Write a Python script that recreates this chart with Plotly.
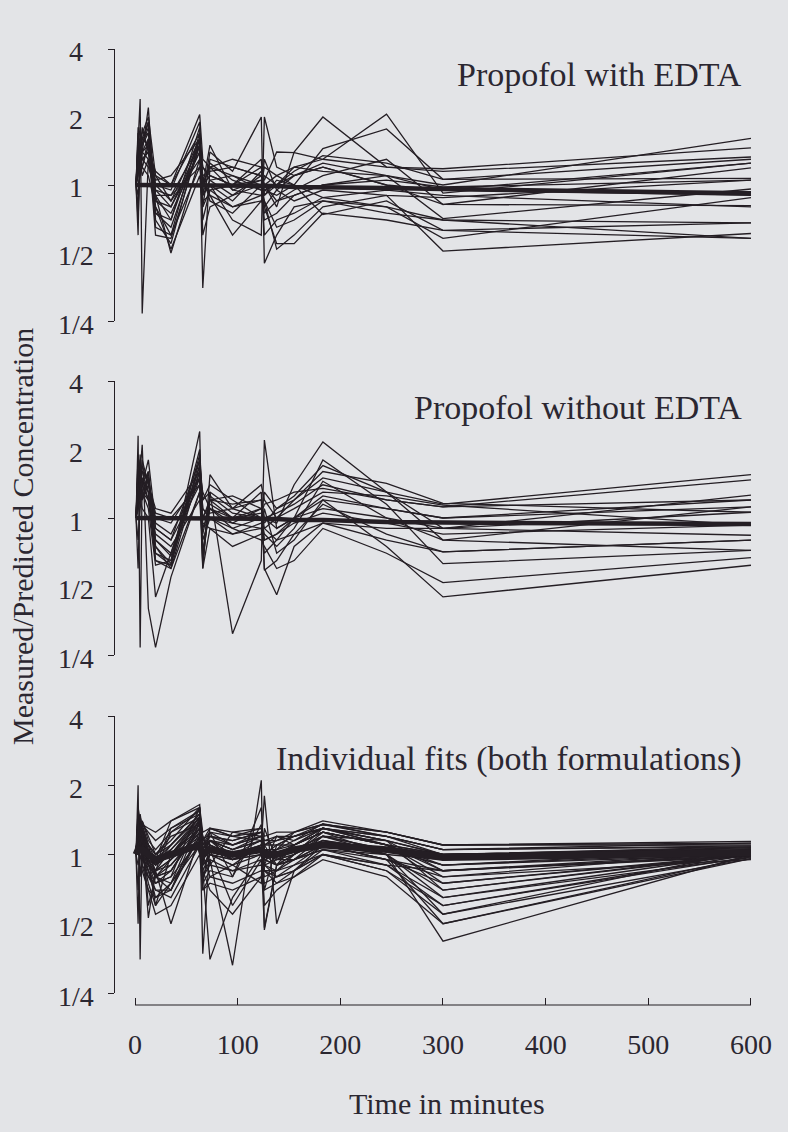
import math
import plotly.graph_objects as go

# ---------------- data ----------------
times = [1, 3, 5, 7, 13, 20, 35, 63, 66, 73, 95, 123, 126, 138, 155, 183, 245, 300, 600]

edta_lines = [
    [1.00, 1.50, 2.40, 0.27, 1.30, 0.95, 0.80, 1.50, 1.00, 1.10, 1.00, 1.20, 0.90, 1.00, 1.10, 1.20, 1.00, 0.95, 0.90],
    [1.00, 1.80, 1.20, 1.40, 2.20, 0.70, 0.55, 1.60, 0.35, 1.20, 0.95, 1.05, 1.00, 0.85, 0.90, 1.00, 1.05, 0.98, 1.05],
    [1.00, 0.60, 1.70, 1.50, 1.90, 0.90, 0.50, 1.30, 0.90, 1.40, 1.15, 2.00, 0.45, 0.60, 0.80, 0.85, 0.75, 0.70, 0.68],
    [1.00, 1.20, 1.40, 1.60, 1.70, 0.80, 0.60, 1.70, 1.20, 1.05, 0.90, 1.10, 1.00, 0.80, 1.40, 2.00, 1.20, 1.15, 1.33],
    [1.00, 1.10, 1.30, 1.20, 1.50, 1.00, 0.95, 1.90, 0.80, 1.30, 1.20, 1.10, 0.95, 1.00, 1.20, 1.30, 2.06, 0.92, 1.25],
    [1.00, 0.80, 1.20, 1.80, 1.40, 0.75, 0.65, 1.50, 0.70, 0.95, 0.80, 0.85, 0.80, 0.55, 0.55, 0.75, 0.70, 0.63, 0.58],
    [1.00, 1.40, 1.60, 1.70, 2.00, 1.10, 1.00, 2.05, 1.30, 1.20, 1.10, 1.00, 1.20, 1.10, 1.00, 1.45, 1.77, 1.06, 1.07],
    [1.00, 1.30, 1.50, 1.40, 1.30, 0.85, 0.75, 1.40, 0.95, 1.00, 0.70, 0.60, 2.00, 1.20, 1.10, 1.20, 1.00, 0.82, 0.81],
    [1.00, 1.60, 1.30, 1.20, 1.60, 0.65, 0.60, 1.20, 1.00, 1.25, 1.05, 0.95, 0.85, 0.52, 0.60, 0.80, 0.90, 0.51, 0.61],
    [1.00, 0.90, 1.20, 1.30, 1.40, 1.05, 1.10, 1.60, 1.10, 1.15, 1.20, 1.10, 1.05, 1.40, 1.39, 1.30, 1.20, 1.18, 1.46],
    [1.00, 1.20, 1.10, 1.50, 1.80, 0.90, 0.70, 1.80, 0.60, 0.80, 0.90, 1.00, 0.70, 0.75, 0.90, 1.00, 1.10, 0.71, 0.96],
    [1.00, 1.50, 1.80, 1.60, 1.50, 1.10, 0.85, 1.30, 1.05, 0.90, 0.60, 0.85, 0.95, 0.90, 1.00, 0.88, 0.80, 0.58, 0.88],
    [1.00, 1.70, 1.40, 1.30, 1.20, 0.95, 0.90, 1.50, 1.20, 1.10, 1.00, 1.30, 0.80, 0.95, 1.10, 1.25, 1.10, 1.00, 1.61],
    [1.00, 1.00, 1.10, 1.20, 1.10, 0.80, 0.52, 1.10, 0.80, 0.95, 1.00, 1.05, 0.75, 0.85, 0.95, 1.10, 1.30, 0.82, 1.19],
    [1.00, 1.30, 1.20, 1.40, 1.60, 0.75, 0.70, 1.60, 0.90, 1.00, 0.85, 1.15, 0.90, 1.05, 1.00, 0.74, 0.85, 0.63, 0.68],
    [1.00, 1.10, 1.50, 1.30, 1.40, 1.15, 1.00, 1.70, 1.00, 1.50, 0.95, 0.90, 1.10, 1.00, 1.15, 1.35, 1.25, 1.06, 1.30],
    [1.00, 1.40, 1.25, 1.60, 1.90, 0.85, 0.80, 1.40, 0.90, 1.05, 1.10, 0.95, 1.30, 0.95, 0.85, 0.95, 0.90, 0.88, 1.05],
    [1.00, 0.70, 1.30, 1.10, 1.30, 0.90, 0.90, 1.20, 1.10, 0.85, 0.75, 1.00, 0.60, 0.70, 0.75, 0.88, 0.95, 0.90, 0.80],
    [1.00, 1.20, 1.40, 1.50, 1.70, 1.00, 0.85, 1.60, 1.00, 1.20, 1.30, 1.20, 1.00, 1.10, 1.20, 1.15, 1.10, 0.95, 1.25],
    [1.00, 1.50, 1.60, 1.40, 1.50, 0.60, 0.58, 1.50, 0.85, 0.90, 0.80, 0.90, 0.85, 0.65, 0.70, 0.85, 0.80, 0.70, 0.58],
]
edta_center = [1.00, 1.00, 1.00, 1.00, 1.00, 1.00, 1.00, 1.00, 1.00, 1.00, 0.99, 0.99, 0.99, 0.99, 0.98, 0.98, 0.97, 0.96, 0.92]

no_edta_lines = [
    [1.00, 2.30, 0.27, 1.50, 1.20, 0.75, 0.60, 1.60, 0.65, 1.20, 1.00, 1.10, 0.90, 1.00, 1.20, 1.50, 1.30, 1.15, 1.55],
    [1.00, 1.80, 1.60, 2.10, 0.40, 0.27, 0.55, 1.30, 0.70, 1.10, 0.95, 0.90, 1.00, 1.05, 1.15, 1.40, 1.20, 1.12, 1.47],
    [1.00, 1.50, 1.70, 1.40, 1.20, 0.65, 0.62, 2.40, 0.60, 1.55, 1.10, 1.00, 0.80, 0.85, 1.00, 1.10, 1.00, 0.90, 1.26],
    [1.00, 1.20, 1.90, 1.30, 1.10, 0.62, 0.65, 1.90, 1.20, 1.30, 0.31, 0.65, 2.20, 0.90, 1.00, 1.20, 1.10, 1.00, 1.20],
    [1.00, 0.60, 1.30, 1.80, 1.40, 1.00, 0.95, 1.50, 1.00, 1.20, 1.15, 1.20, 1.00, 0.95, 1.40, 2.16, 1.30, 0.80, 1.12],
    [1.00, 1.40, 1.50, 1.20, 1.60, 0.80, 0.70, 1.70, 0.90, 1.10, 1.00, 1.30, 0.60, 0.46, 0.75, 0.95, 0.80, 0.71, 0.80],
    [1.00, 1.60, 1.20, 1.50, 1.30, 0.70, 0.62, 1.80, 1.10, 1.00, 0.85, 0.90, 0.70, 0.80, 1.00, 1.80, 1.15, 0.63, 0.72],
    [1.00, 1.10, 1.40, 1.60, 1.50, 0.90, 0.80, 1.40, 0.85, 1.20, 1.25, 1.10, 0.95, 1.10, 1.20, 1.60, 1.42, 1.16, 1.06],
    [1.00, 1.30, 1.60, 1.20, 1.40, 1.10, 1.05, 1.60, 1.30, 1.10, 0.90, 0.80, 0.75, 0.60, 0.65, 0.90, 0.70, 0.52, 0.67],
    [1.00, 1.90, 1.40, 1.30, 1.50, 0.65, 0.60, 1.30, 0.60, 0.90, 0.75, 0.85, 1.10, 0.70, 0.80, 1.20, 0.75, 0.45, 0.62],
    [1.00, 1.20, 1.30, 1.40, 1.80, 0.95, 0.85, 1.50, 1.00, 1.05, 1.10, 1.40, 1.20, 1.00, 1.10, 1.30, 1.25, 1.14, 0.93],
    [1.00, 0.80, 1.10, 1.30, 1.20, 0.85, 0.75, 1.20, 0.95, 0.90, 0.85, 0.95, 0.90, 0.80, 0.85, 0.95, 0.90, 0.90, 0.84],
    [1.00, 1.50, 1.80, 1.60, 1.30, 0.70, 0.65, 2.00, 0.70, 1.25, 1.05, 1.00, 0.85, 0.75, 0.90, 1.45, 1.00, 0.80, 0.72],
    [1.00, 1.40, 1.20, 1.10, 1.00, 0.45, 0.70, 1.60, 1.10, 1.00, 0.95, 1.10, 1.00, 0.90, 1.00, 1.25, 1.10, 1.00, 1.12],
    [1.00, 1.70, 1.50, 1.40, 1.60, 0.75, 0.63, 1.70, 0.62, 1.30, 1.10, 1.20, 0.59, 0.65, 0.85, 1.15, 0.85, 0.71, 0.80],
    [1.00, 1.30, 1.50, 1.70, 1.40, 1.05, 1.00, 1.40, 1.00, 1.15, 1.00, 1.05, 1.15, 1.20, 1.30, 1.35, 1.20, 1.12, 1.20],
    [1.00, 1.10, 1.20, 1.50, 1.30, 0.80, 0.68, 1.50, 0.80, 1.00, 0.90, 1.00, 0.80, 0.85, 0.95, 1.05, 0.95, 0.85, 0.93],
    [1.00, 1.60, 1.40, 1.20, 1.50, 0.90, 0.80, 1.80, 1.20, 1.40, 1.20, 1.00, 1.30, 1.10, 1.25, 1.70, 1.30, 0.90, 1.06],
]
no_edta_center = [1.00, 1.00, 1.00, 1.00, 1.00, 1.00, 1.00, 1.00, 1.00, 1.00, 1.00, 0.99, 0.99, 0.99, 0.98, 0.98, 0.96, 0.955, 0.94]

indiv_lines = [
    [1.00, 2.00, 0.35, 1.30, 1.10, 0.80, 0.75, 1.45, 0.37, 1.10, 0.95, 1.00, 0.90, 0.95, 1.05, 1.20, 1.05, 0.90, 1.00],
    [1.00, 1.50, 1.30, 1.20, 0.53, 0.85, 0.50, 1.20, 1.00, 1.15, 1.00, 1.05, 1.00, 0.90, 1.00, 1.30, 1.10, 0.85, 1.02],
    [1.00, 1.40, 1.20, 1.10, 0.90, 0.75, 0.80, 1.60, 0.90, 0.95, 0.33, 2.10, 0.47, 0.90, 1.00, 1.25, 1.00, 0.42, 1.00],
    [1.00, 1.30, 1.40, 1.00, 0.85, 0.65, 0.70, 1.40, 1.20, 1.00, 0.90, 1.10, 1.80, 0.50, 0.85, 1.10, 0.95, 0.50, 0.98],
    [1.00, 1.20, 1.50, 1.30, 1.00, 0.90, 1.30, 1.55, 1.10, 1.25, 1.20, 1.30, 1.10, 1.20, 1.15, 1.36, 1.20, 1.05, 1.08],
    [1.00, 0.50, 1.40, 1.20, 0.95, 0.80, 0.85, 1.30, 0.80, 0.90, 0.85, 0.95, 0.60, 0.70, 0.80, 1.00, 0.85, 0.55, 0.96],
    [1.00, 1.35, 1.10, 1.40, 1.20, 1.00, 1.10, 1.50, 1.05, 1.20, 1.15, 1.25, 1.05, 1.00, 1.10, 1.30, 1.15, 1.00, 1.05],
    [1.00, 1.25, 1.30, 0.90, 0.80, 0.70, 0.65, 1.10, 0.75, 0.85, 0.80, 1.60, 0.85, 0.75, 0.85, 1.05, 0.90, 0.60, 1.00],
    [1.00, 1.40, 1.20, 1.10, 1.05, 0.95, 1.40, 1.65, 0.90, 1.30, 1.20, 1.15, 1.00, 1.05, 1.25, 1.35, 1.25, 1.10, 1.10],
    [1.00, 1.10, 1.30, 1.20, 0.90, 0.85, 0.90, 1.25, 0.95, 1.05, 1.00, 1.10, 0.95, 0.90, 0.95, 1.10, 1.00, 0.95, 1.03],
    [1.00, 1.30, 0.80, 1.00, 0.75, 0.60, 0.75, 1.20, 0.85, 0.35, 0.65, 1.00, 0.80, 0.85, 0.90, 1.00, 0.90, 0.65, 0.97],
    [1.00, 1.45, 1.25, 1.35, 1.10, 1.00, 1.20, 1.35, 1.15, 1.25, 1.10, 1.20, 1.15, 1.20, 1.20, 1.30, 1.20, 1.05, 1.12],
    [1.00, 1.20, 1.10, 0.95, 0.85, 0.75, 0.80, 1.15, 0.90, 1.00, 0.95, 1.05, 0.90, 0.80, 0.90, 1.10, 0.95, 0.75, 0.99],
    [1.00, 1.30, 1.35, 1.25, 1.00, 0.90, 1.00, 1.40, 1.00, 1.15, 1.05, 1.15, 1.00, 1.10, 1.10, 1.25, 1.10, 1.00, 1.04],
    [1.00, 0.70, 1.20, 1.10, 0.90, 0.80, 0.85, 1.30, 0.95, 1.05, 0.60, 0.95, 0.48, 0.90, 0.95, 1.05, 0.95, 0.80, 0.95],
    [1.00, 1.40, 1.30, 1.20, 1.10, 0.95, 1.05, 1.45, 1.05, 1.20, 1.10, 1.20, 1.05, 1.05, 1.15, 1.30, 1.15, 1.00, 1.06],
    [1.00, 1.25, 1.20, 1.15, 0.95, 0.85, 0.95, 1.30, 0.95, 1.10, 1.00, 1.10, 1.00, 0.95, 1.00, 1.15, 1.05, 0.95, 1.01],
    [1.00, 1.35, 1.40, 1.30, 1.05, 0.90, 1.10, 1.50, 1.10, 1.15, 1.10, 1.25, 1.10, 1.10, 1.20, 1.30, 1.15, 0.70, 1.00],
    [1.00, 1.15, 1.05, 1.10, 0.85, 0.70, 0.70, 1.20, 0.80, 0.95, 0.85, 0.90, 0.85, 0.80, 0.85, 1.00, 0.90, 0.85, 0.98],
    [1.00, 1.30, 1.25, 1.20, 1.00, 0.90, 1.00, 1.35, 1.00, 1.10, 1.00, 1.15, 0.95, 1.00, 1.05, 1.20, 1.05, 0.90, 1.02],
    [1.00, 1.45, 1.30, 1.15, 1.00, 0.85, 0.95, 1.40, 0.95, 1.05, 0.95, 1.10, 1.00, 0.95, 1.00, 1.20, 1.00, 0.55, 1.04],
    [1.00, 1.20, 1.30, 1.40, 1.15, 1.05, 1.25, 1.55, 1.15, 1.30, 1.20, 1.25, 1.15, 1.15, 1.25, 1.35, 1.25, 1.10, 1.14],
    [1.00, 1.25, 1.15, 1.05, 0.95, 0.80, 0.90, 1.25, 0.90, 1.00, 0.90, 1.00, 0.90, 0.85, 0.95, 1.10, 0.95, 0.85, 0.99],
    [1.00, 1.35, 1.20, 1.25, 1.05, 0.95, 1.10, 1.45, 1.05, 1.15, 1.05, 1.20, 1.05, 1.00, 1.10, 1.25, 1.10, 1.00, 1.07],
    [1.00, 1.10, 1.20, 1.00, 0.90, 0.80, 0.95, 1.20, 0.85, 1.00, 0.95, 1.00, 0.95, 0.90, 0.95, 1.05, 1.00, 0.65, 1.01],
    [1.00, 1.40, 1.25, 1.30, 1.10, 1.00, 1.15, 1.60, 1.10, 1.20, 1.15, 1.25, 1.10, 1.15, 1.20, 1.30, 1.20, 1.05, 1.09],
    [1.00, 1.20, 1.10, 1.15, 0.95, 0.90, 1.00, 1.30, 1.00, 1.05, 1.00, 1.05, 1.00, 1.00, 1.05, 1.15, 1.05, 0.95, 1.03],
    [1.00, 1.30, 1.35, 1.20, 1.00, 0.85, 1.05, 1.40, 1.00, 1.15, 1.05, 1.15, 1.00, 1.05, 1.10, 1.25, 1.10, 0.75, 1.00],
    [1.00, 1.60, 1.40, 0.90, 0.70, 0.55, 0.60, 1.00, 0.70, 0.80, 0.75, 0.85, 0.75, 0.80, 0.85, 1.00, 0.85, 0.60, 0.98],
    [1.00, 1.50, 1.45, 1.35, 1.30, 1.25, 1.40, 1.60, 1.25, 1.30, 1.25, 1.30, 1.20, 1.25, 1.25, 1.40, 1.25, 1.10, 1.12],
    [1.00, 0.90, 1.00, 0.85, 0.70, 0.65, 0.75, 1.10, 0.70, 0.75, 0.70, 0.80, 0.70, 0.75, 0.80, 0.95, 0.80, 0.50, 0.96],
    [1.00, 1.35, 1.25, 1.10, 0.95, 0.60, 1.00, 1.45, 0.85, 0.70, 0.55, 0.80, 1.10, 0.90, 1.10, 1.30, 1.10, 0.80, 1.03],
    [1.00, 1.20, 1.30, 1.35, 1.25, 1.15, 1.30, 1.50, 1.20, 0.90, 1.25, 1.20, 0.70, 1.10, 1.20, 1.35, 1.20, 1.00, 1.08],
    [1.00, 1.40, 1.15, 1.00, 0.80, 0.75, 0.85, 1.35, 0.95, 1.25, 0.80, 1.35, 0.85, 0.85, 1.00, 1.15, 1.00, 0.70, 1.01],
    [1.00, 1.10, 1.05, 0.95, 0.90, 0.85, 1.25, 1.45, 0.75, 1.15, 0.95, 1.05, 0.90, 1.20, 1.10, 1.25, 1.10, 0.90, 1.05],
    [1.00, 1.30, 1.20, 1.25, 0.60, 0.80, 0.70, 1.25, 1.00, 0.80, 0.90, 0.75, 1.30, 0.95, 0.95, 1.20, 1.15, 0.85, 1.00],
]
indiv_center = [1.00, 1.05, 1.05, 1.05, 1.00, 0.95, 1.00, 1.10, 1.00, 1.05, 1.00, 1.05, 1.00, 1.00, 1.05, 1.10, 1.05, 0.97, 1.02]

panel_titles = ["Propofol with EDTA", "Propofol without EDTA", "Individual fits (both formulations)"]
y_tick_vals = [0.25, 0.5, 1, 2, 4]
y_tick_text = ["1/4", "1/2", "1", "2", "4"]
x_tick_vals = [0, 100, 200, 300, 400, 500, 600]
x_tick_text = ["0", "100", "200", "300", "400", "500", "600"]
x_title = "Time in minutes"
y_title = "Measured/Predicted Concentration"

# ---------------- layout geometry ----------------
W, H = 788, 1132
BG = "#e3e4e7"
INK = "#241e24"
TXT = "#2b2731"
FONT = "'Liberation Serif', 'Times New Roman', Times, 'DejaVu Serif', serif"


def fx(px):
    return px / W


def fy(px):
    return 1 - px / H


panel_px = [(49, 321), (381, 655), (716, 993)]   # (top, bottom) of each y axis
title_y_px = [74, 407, 759]
x_axis_px = 1005
x_range = [-19.5, 620]
x_domain = [fx(115), fx(771.5)]
y_range = [math.log10(0.25), math.log10(4)]

fig = go.Figure()

datasets = [(edta_lines, edta_center), (no_edta_lines, no_edta_center), (indiv_lines, indiv_center)]
for i, (lines, center) in enumerate(datasets):
    xa = "x" if i == 0 else f"x{i+1}"
    ya = "y" if i == 0 else f"y{i+1}"
    for vals in lines:
        fig.add_trace(go.Scatter(x=times, y=vals, mode="lines", xaxis=xa, yaxis=ya,
                                 line=dict(color=INK, width=1.3), hoverinfo="skip", showlegend=False))
    fig.add_trace(go.Scatter(x=times, y=center, mode="lines", xaxis=xa, yaxis=ya,
                             line=dict(color=INK, width=4.5 if i < 2 else 7), hoverinfo="skip",
                             showlegend=False))

layout = dict(
    width=W, height=H,
    margin=dict(l=0, r=0, t=0, b=0),
    paper_bgcolor=BG, plot_bgcolor=BG,
    font=dict(family=FONT, color=TXT, size=28),
    showlegend=False,
)

annotations = []
for i, (top, bot) in enumerate(panel_px):
    sfx = "" if i == 0 else str(i + 1)
    xkey = "xaxis" + sfx
    ykey = "yaxis" + sfx
    xa = dict(domain=x_domain, range=x_range, anchor="y" + sfx, showgrid=False, zeroline=False)
    if i < 2:
        xa.update(visible=False)
    else:
        xa.update(anchor="free", position=fy(x_axis_px), showline=False, ticks="inside",
                  ticklen=7, tickwidth=1.2, tickcolor=INK, tickvals=x_tick_vals,
                  ticktext=x_tick_text, tickfont=dict(size=28, family=FONT, color=TXT),
                  ticklabelstandoff=20)
    layout[xkey] = xa
    layout[ykey] = dict(domain=[fy(bot), fy(top)], type="log", range=y_range,
                        anchor="x" + sfx, showgrid=False, zeroline=False,
                        showline=True, linecolor=INK, linewidth=1.2,
                        ticks="outside", ticklen=6, tickwidth=1.2, tickcolor=INK,
                        tickvals=y_tick_vals, showticklabels=False)
    for v, t in zip(y_tick_vals, y_tick_text):
        annotations.append(dict(text=t, xref="paper", x=fx(76), xanchor="center",
                                yref="y" + sfx, y=math.log10(v), yanchor="middle", yshift=-3,
                                showarrow=False, font=dict(size=28, family=FONT, color=TXT)))
    annotations.append(dict(text=panel_titles[i], xref="paper", x=fx(744), xanchor="right",
                            yref="paper", y=fy(title_y_px[i]), yanchor="middle",
                            showarrow=False, font=dict(size=34, family=FONT, color=TXT)))

annotations.append(dict(text=x_title, xref="paper", x=fx(447), xanchor="center",
                        yref="paper", y=fy(1103), yanchor="middle", showarrow=False,
                        font=dict(size=30, family=FONT, color=TXT)))
annotations.append(dict(text=y_title, xref="paper", x=fx(22), xanchor="center",
                        yref="paper", y=fy(537), yanchor="middle", textangle=-90,
                        showarrow=False, font=dict(size=30, family=FONT, color=TXT)))
layout["annotations"] = annotations
layout["shapes"] = [dict(type="line", xref="x3", x0=0, x1=600, yref="paper",
                         y0=fy(x_axis_px), y1=fy(x_axis_px), line=dict(color=INK, width=1.2))]

fig.update_layout(**layout)
fig.write_html("out.html")
